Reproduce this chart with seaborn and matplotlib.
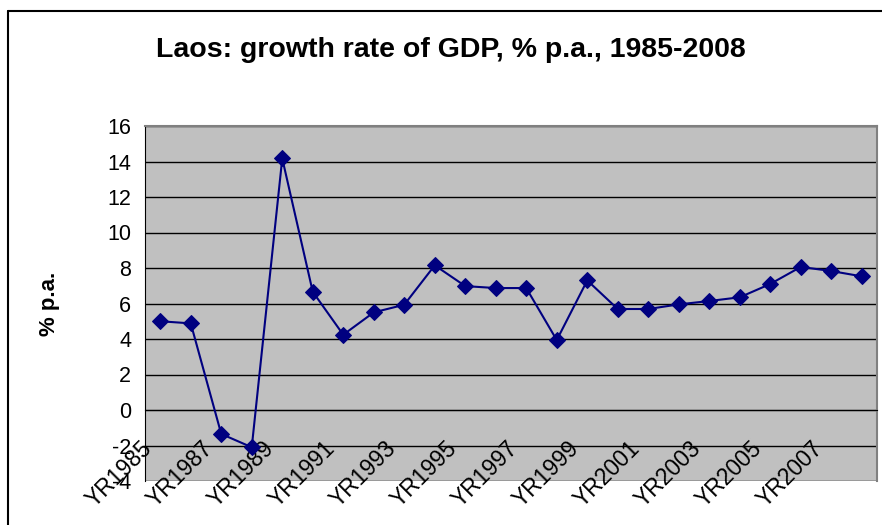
import matplotlib
matplotlib.use("Agg")
import matplotlib.pyplot as plt
import matplotlib.transforms as mtransforms
from matplotlib.lines import Line2D
import seaborn as sns
import pandas as pd

# Datos: crecimiento del PIB de Laos, % anual
years = ["YR%d" % y for y in range(1985, 2009)]
growth = [5.0, 4.88, -1.35, -2.1, 14.17, 6.66, 4.24, 5.5, 5.93, 8.15, 6.98, 6.87,
          6.87, 3.94, 7.3, 5.69, 5.69, 5.95, 6.14, 6.35, 7.1, 8.06, 7.83, 7.53]
y_ticks = [-4, -2, 0, 2, 4, 6, 8, 10, 12, 14, 16]
title = "Laos: growth rate of GDP, % p.a., 1985-2008"
y_label = "% p.a."

df = pd.DataFrame({"idx": range(len(years)), "year": years, "growth": growth})

sns.set_style("white")
plt.rcParams["font.family"] = ["Liberation Sans", "DejaVu Sans"]
plt.rcParams["text.color"] = "black"
plt.rcParams["axes.labelcolor"] = "black"
plt.rcParams["xtick.color"] = "black"
plt.rcParams["ytick.color"] = "black"

fig = plt.figure(figsize=(8.82, 5.25), dpi=100)
ax = fig.add_axes([145 / 882, 1 - 481 / 525, 732 / 882, 355 / 525])
ax.set_facecolor("#C0C0C0")

sns.lineplot(data=df, x="idx", y="growth", ax=ax, color="#000080", marker="D",
             markersize=8, markeredgecolor="#000080", linewidth=1.5, zorder=5)

ax.set_xlim(-0.5, len(years) - 0.5)
ax.set_ylim(-4, 16)
ax.set_yticks(y_ticks)
ax.set_yticklabels([str(v) for v in y_ticks], fontsize=15.5, color="black")
ax.yaxis.grid(True, color="black", linewidth=1)
ax.set_axisbelow(True)
ax.tick_params(axis="y", direction="out", length=6, width=1, color="black", pad=4)

# Eje X cruzando en cero, marcas entre categorías
ax.spines["bottom"].set_position(("data", 0))
ax.spines["bottom"].set_color("black")
ax.spines["bottom"].set_zorder(4)
ax.spines["left"].set_color("black")
for s in ["top", "right"]:
    ax.spines[s].set_color("#808080")
    ax.spines[s].set_linewidth(1.5)

ax.set_xticks(range(0, len(years), 2))
ax.set_xticklabels(years[::2], fontsize=16.5, rotation=45, ha="right", va="top",
                   rotation_mode="anchor", color="black")
ax.set_xticks([i - 0.5 for i in range(len(years) + 1)], minor=True)
ax.tick_params(axis="x", which="major", length=0, pad=0)
ax.tick_params(axis="x", which="minor", direction="out", length=6, width=1, color="black")
offset = mtransforms.ScaledTranslation(-20 / 100, -27 / 100, fig.dpi_scale_trans)
for lbl in ax.get_xticklabels():
    lbl.set_transform(lbl.get_transform() + offset)

ax.set_xlabel("")
ax.set_ylabel(y_label, fontsize=16, fontweight="bold", labelpad=34, color="black")

fig.text(451 / 882, 1 - 50 / 525, title, ha="center", va="center",
         fontsize=20.5, fontweight="bold", color="black")

# Borde del gráfico (estilo Excel)
fig.add_artist(Line2D([8 / 882, 8 / 882], [0, 1 - 11 / 525], transform=fig.transFigure,
                      color="black", linewidth=1.5))
fig.add_artist(Line2D([8 / 882, 1], [1 - 11 / 525, 1 - 11 / 525], transform=fig.transFigure,
                      color="black", linewidth=1.5))

fig.savefig("out.png", dpi=100)
